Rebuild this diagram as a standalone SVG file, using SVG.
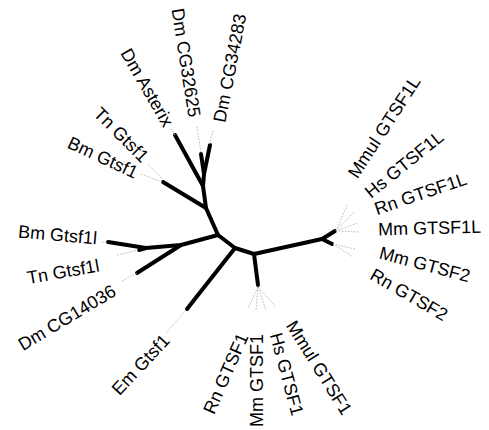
<svg xmlns="http://www.w3.org/2000/svg" width="489" height="430" viewBox="0 0 489 430">
  <style>
    .branch { fill: none; stroke: #000; stroke-width: 4; stroke-linecap: round; stroke-linejoin: round; }
    .leader { fill: none; stroke: #b8b8b8; stroke-width: 1; stroke-dasharray: 1.5 1.5; }
    .lbl { font-family: "Liberation Sans", Arial, Helvetica, sans-serif; font-size: 18px; fill: #000; }
    .end { text-anchor: end; }
    .start { text-anchor: start; }
  </style>
  <rect width="489" height="430" fill="#fff"/>

  <!-- tree branches and dotted leaders -->
  <g id="connectors">
    <g id="branches">
      <path class="branch" d="M218,235 L206,208 L203,186 L204,174 L201,154"/>
      <path class="branch" d="M204,174 L210,145"/>
      <path class="branch" d="M203,186 L175,135"/>
      <path class="branch" d="M206,208 L163,182"/>
      <path class="branch" d="M218,235 L181,245 L146,248 L108,242"/>
      <path class="branch" d="M146,248 L139,250"/>
      <path class="branch" d="M181,245 L137,273"/>
      <path class="branch" d="M218,235 L235,248 L187,309"/>
      <path class="branch" d="M235,248 L254,254 L258,285"/>
      <path class="branch" d="M254,254 L322,239 L335,231"/>
      <path class="branch" d="M322,239 L332,244"/>
    </g>
    <g id="leaders">
      <path class="leader" d="M171,129 L175,135"/>
      <path class="leader" d="M197,127 L201,153"/>
      <path class="leader" d="M213,131 L209,145"/>
      <path class="leader" d="M148,164 L162,179"/>
      <path class="leader" d="M141,174 L162,182"/>
      <path class="leader" d="M102,242 L108,242"/>
      <path class="leader" d="M117,255 L138,250"/>
      <path class="leader" d="M122,281 L137,273"/>
      <path class="leader" d="M166,333 L186,310"/>
      <path class="leader" d="M258,287 L248,308 M258,287 L256,310 M258,287 L266,310 M258,287 L276,307"/>
      <path class="leader" d="M336,231 L347,205 M336,231 L354,212 M336,231 L358,223 M336,231 L360,232"/>
      <path class="leader" d="M333,244 L355,249 M333,244 L353,257"/>
    </g>
  </g>

  <!-- tip labels -->
  <g id="bm-gtsf1l"><text class="lbl end" transform="translate(97,238) rotate(5)" dy="0.36em">Bm Gtsf1l</text></g>
  <g id="tn-gtsf1l"><text class="lbl end" transform="translate(99,265) rotate(-10)" dy="0.36em">Tn Gtsf1l</text></g>
  <g id="dm-cg14036"><text class="lbl end" transform="translate(114,289) rotate(-31)" dy="0.36em">Dm CG14036</text></g>
  <g id="em-gtsf1"><text class="lbl end" transform="translate(166,337) rotate(-47)" dy="0.36em">Em Gtsf1</text></g>
  <g id="rn-gtsf1"><text class="lbl end" transform="translate(243,334) rotate(-66)" dy="0.36em">Rn GTSF1</text></g>
  <g id="mm-gtsf1"><text class="lbl end" transform="translate(257,334) rotate(-90)" dy="0.36em">Mm GTSF1</text></g>
  <g id="hs-gtsf1"><text class="lbl start" transform="translate(276,333) rotate(75)" dy="0.36em">Hs GTSF1</text></g>
  <g id="mmul-gtsf1"><text class="lbl start" transform="translate(291,322) rotate(58)" dy="0.36em">Mmul GTSF1</text></g>
  <g id="rn-gtsf2"><text class="lbl start" transform="translate(372,273) rotate(30)" dy="0.36em">Rn GTSF2</text></g>
  <g id="mm-gtsf2"><text class="lbl start" transform="translate(380,252) rotate(15)" dy="0.36em">Mm GTSF2</text></g>
  <g id="mm-gtsf1l"><text class="lbl start" transform="translate(378,229) rotate(-1.5)" dy="0.36em">Mm GTSF1L</text></g>
  <g id="rn-gtsf1l"><text class="lbl start" transform="translate(375,209) rotate(-19)" dy="0.36em">Rn GTSF1L</text></g>
  <g id="hs-gtsf1l"><text class="lbl start" transform="translate(367,194) rotate(-39)" dy="0.36em">Hs GTSF1L</text></g>
  <g id="mmul-gtsf1l"><text class="lbl start" transform="translate(352,176) rotate(-57)" dy="0.36em">Mmul GTSF1L</text></g>
  <g id="dm-cg34283"><text class="lbl start" transform="translate(219,122) rotate(-79)" dy="0.36em">Dm CG34283</text></g>
  <g id="dm-cg32625"><text class="lbl end" transform="translate(195,117) rotate(81)" dy="0.36em">Dm CG32625</text></g>
  <g id="dm-asterix"><text class="lbl end" transform="translate(169,125) rotate(60)" dy="0.36em">Dm Asterix</text></g>
  <g id="tn-gtsf1"><text class="lbl end" transform="translate(146,159) rotate(45)" dy="0.36em">Tn Gtsf1</text></g>
  <g id="bm-gtsf1"><text class="lbl end" transform="translate(137,173) rotate(25)" dy="0.36em">Bm Gtsf1</text></g>
</svg>
